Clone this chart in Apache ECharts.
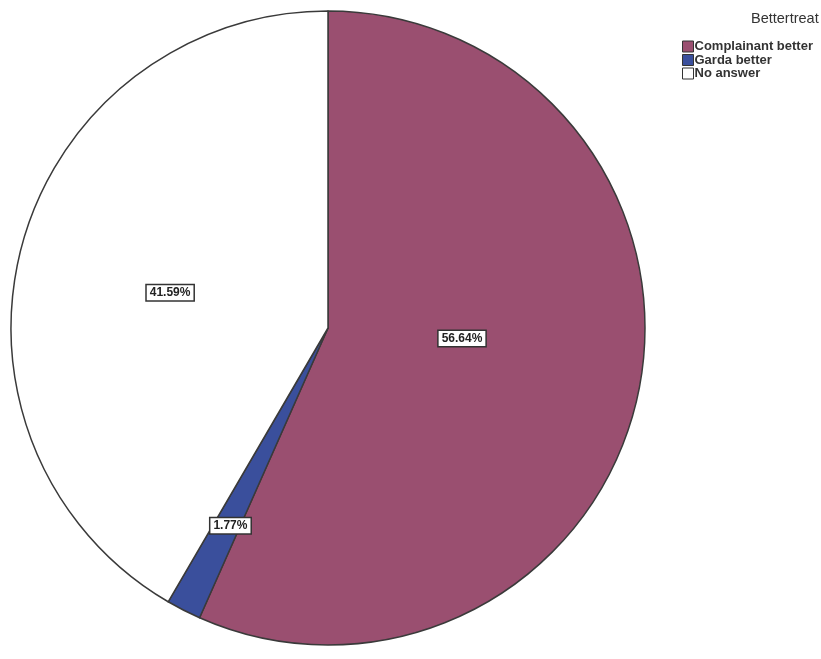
<!DOCTYPE html>
<html>
<head>
<meta charset="utf-8">
<script src="https://cdn.jsdelivr.net/npm/echarts@6/dist/echarts.min.js"></script>
<style>
  html, body { margin: 0; padding: 0; background: #ffffff; }
  #chart { width: 821px; height: 659px; }
</style>
</head>
<body>
<div id="chart"></div>
<script>
// Answers to "Bettertreat", as percentages of respondents
var categories = ['Complainant better', 'Garda better', 'No answer'];
var percents = [56.64, 1.77, 41.59];
var sliceColors = ['#9a4f70', '#3a4f9c', '#ffffff'];

// Nudges for each slice label away from the default inside position
var labelShift = [[-24, -23], [-24, 54], [-2, 7]];

var chart = echarts.init(document.getElementById('chart'));

var pieData = categories.map(function (name, i) {
  return { name: name, value: percents[i], itemStyle: { color: sliceColors[i] } };
});

chart.setOption({
  animation: false,
  backgroundColor: '#ffffff',
  title: {
    text: 'Bettertreat',
    left: 746,
    top: 6,
    textStyle: {
      fontFamily: 'Liberation Sans, Arial, sans-serif',
      fontSize: 14.5,
      fontWeight: 'normal',
      color: '#333'
    }
  },
  legend: {
    orient: 'vertical',
    left: 677,
    top: 35,
    itemWidth: 11,
    itemHeight: 11,
    itemGap: 0.5,
    icon: 'rect',
    selectedMode: false,
    data: categories,
    itemStyle: { borderColor: '#333', borderWidth: 1 },
    textStyle: {
      fontFamily: 'Liberation Sans, Arial, sans-serif',
      fontSize: 13,
      lineHeight: 13,
      fontWeight: 'bold',
      color: '#333',
      padding: [0, 0, 0, -4]
    }
  },
  series: [{
    type: 'pie',
    center: [328, 328],
    radius: 317,
    startAngle: 90,
    clockwise: true,
    avoidLabelOverlap: false,
    itemStyle: { borderColor: '#3a3a3a', borderWidth: 1.5 },
    emphasis: { disabled: true },
    label: {
      show: true,
      position: 'inside',
      formatter: function (p) { return p.value.toFixed(2) + '%'; },
      fontFamily: 'Liberation Sans, Arial, sans-serif',
      fontSize: 12,
      fontWeight: 'bold',
      color: '#222',
      backgroundColor: '#ffffff',
      borderColor: '#333',
      borderWidth: 1.5,
      padding: [2, 3, 1, 3]
    },
    labelLine: { show: false },
    labelLayout: function (params) {
      var s = labelShift[params.dataIndex];
      return { dx: s[0], dy: s[1] };
    },
    data: pieData
  }]
});
</script>
</body>
</html>
